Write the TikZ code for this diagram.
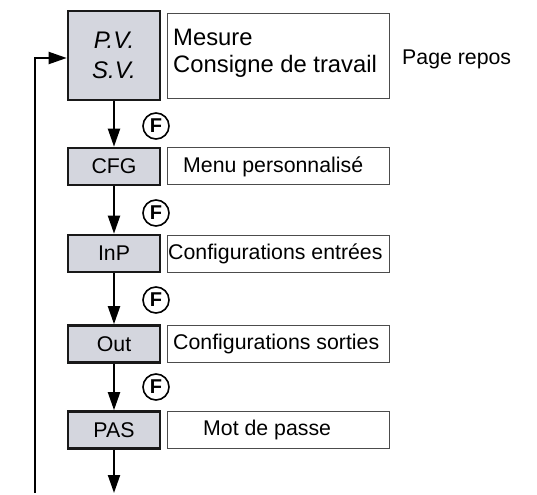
\documentclass[tikz,border=0pt]{standalone}
\usepackage{fontspec}
\setmainfont{Liberation Sans}
\usetikzlibrary{arrows.meta}
\definecolor{boxgrey}{RGB}{212,214,222}
\tikzset{
  keybox/.style={draw=black!90, line width=2.6bp, fill=boxgrey, minimum width=92bp, minimum height=37bp, inner sep=0pt, font=\fontsize{21.3bp}{24bp}\selectfont},
  descbox/.style={draw=black!70, line width=1bp, minimum width=222bp, minimum height=37bp, inner sep=0pt},
  desc/.style={anchor=west, inner sep=0pt, font=\fontsize{21.3bp}{24bp}\selectfont},
  fkey/.style={draw, circle, line width=1.6bp, minimum size=26bp, inner sep=0pt, font=\fontsize{20bp}{20bp}\selectfont\bfseries},
  arr/.style={line width=2bp, -{Triangle[length=18bp,width=12bp]}}
}
\begin{document}
\begin{tikzpicture}[x=1bp,y=-1bp]
\useasboundingbox (0,0) rectangle (537,495);
% row 0
\node[keybox, minimum height=89bp, align=center, font=\fontsize{24bp}{30bp}\selectfont\itshape] (pv) at (114,55.5) {P.V.\\S.V.};
\node[descbox, minimum height=85bp] (d0) at (278,56.5) {};
\node[desc, font=\fontsize{23.8bp}{28bp}\selectfont] (t0a) at (173,37) {Mesure};
\node[desc, font=\fontsize{23.8bp}{28bp}\selectfont] (t0b) at (173,66) {Consigne de travail};
\node[desc] (rep) at (402,59) {Page repos};
% row 1
\node[keybox] (cfg) at (114,166.5) {CFG};
\node[descbox] (d1) at (278,166.5) {};
\node[desc] (t1) at (183,166.5) {Menu personnalisé};
% row 2
\node[keybox] (inp) at (114,253.5) {InP};
\node[descbox] (d2) at (278,253.5) {};
\node[desc] (t2) at (168,253.5) {Configurations entrées};
% row 3
\node[keybox] (out) at (114,344) {Out};
\node[descbox] (d3) at (278,344) {};
\node[desc] (t3) at (173,344) {Configurations sorties};
% row 4
\node[keybox] (pas) at (114,430) {PAS};
\node[descbox] (d4) at (278,430) {};
\node[desc] (t4) at (203,430) {Mot de passe};
% F keys
\node[fkey] (f1) at (156,126) {F};
\node[fkey] (f2) at (156,213) {F};
\node[fkey] (f3) at (156,300) {F};
\node[fkey] (f4) at (156,387) {F};
% arrows
\draw[arr] (pv.south) -- (cfg.north);
\draw[arr] (cfg.south) -- (inp.north);
\draw[arr] (inp.south) -- (out.north);
\draw[arr] (out.south) -- (pas.north);
\coordinate (end) at (114,493);
\coordinate (loopbot) at (35,493);
\draw[arr] (pas.south) -- (end);
\draw[arr] (loopbot) |- ([yshift=-2.5bp]pv.west);
\end{tikzpicture}
\end{document}
